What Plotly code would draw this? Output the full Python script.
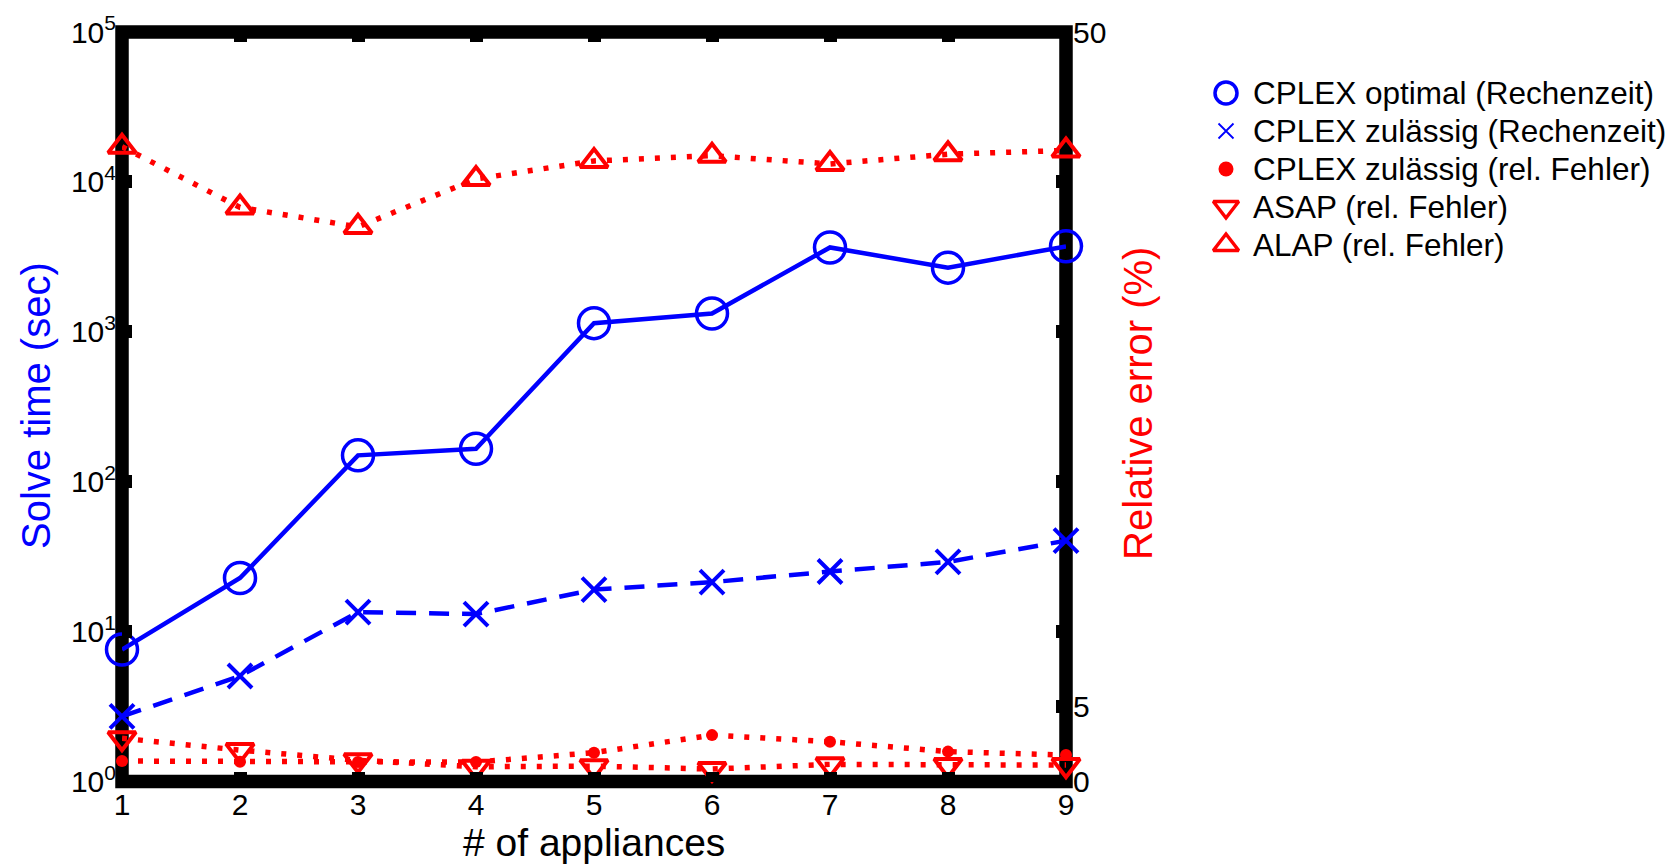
import plotly.graph_objects as go

# ---- data ----
appliances = [1, 2, 3, 4, 5, 6, 7, 8, 9]
opt_time = [7.6, 22.8, 150, 166, 1143, 1325, 3656, 2680, 3718]        # CPLEX optimal (Rechenzeit), sec
feas_time = [2.72, 5.06, 13.5, 13.1, 19.1, 21.4, 25.2, 29.2, 40.5]    # CPLEX zulässig (Rechenzeit), sec
feas_err = [1.37, 1.33, 1.3, 1.3, 1.93, 3.1, 2.66, 2.0, 1.77]          # CPLEX zulässig (rel. Fehler), %
asap_err = [2.89, 2.1, 1.42, 0.99, 1.03, 0.84, 1.15, 1.1, 1.1]         # ASAP (rel. Fehler), %
alap_err = [42.35, 38.3, 37.0, 40.2, 41.4, 41.75, 41.2, 41.85, 42.1]   # ALAP (rel. Fehler), %

names = ["CPLEX optimal (Rechenzeit)", "CPLEX zulässig (Rechenzeit)",
         "CPLEX zulässig (rel. Fehler)", "ASAP (rel. Fehler)", "ALAP (rel. Fehler)"]

left_tickvals = [1, 10, 100, 1000, 10000, 100000]
left_ticktext = ["10<sup>0</sup>", "10<sup>1</sup>", "10<sup>2</sup>",
                 "10<sup>3</sup>", "10<sup>4</sup>", "10<sup>5</sup>"]
right_tickvals = [0, 5, 50]

# ---- layout constants (pixels in the 1672x865 page) ----
W, H = 1672, 865
PL, PR, PT, PB = 122, 1066, 32, 781.6          # plot-area edges
LEG_X0 = 1140                                  # legend panel left edge
LEG_SYM_X, LEG_TXT_X = 1226, 1251
LEG_ROW0, LEG_DY = 93, 38

BLUE = "#0000FF"
RED = "#FF0000"
FONT = "Liberation Sans, Arial, sans-serif"

fig = go.Figure()

# ---- data traces ----
fig.add_trace(go.Scatter(
    x=appliances, y=alap_err, xaxis="x", yaxis="y2", mode="lines+markers", showlegend=False,
    name=names[4], line=dict(color=RED, width=5.5, dash="5px,11px"),
    marker=dict(symbol="triangle-up-open", size=24, color=RED, line=dict(width=4, color=RED)),
    cliponaxis=False))
fig.add_trace(go.Scatter(
    x=appliances, y=feas_err, xaxis="x", yaxis="y2", mode="lines+markers", showlegend=False,
    name=names[2], line=dict(color=RED, width=5.5, dash="5px,11px"),
    marker=dict(symbol="circle", size=12, color=RED),
    cliponaxis=False))
fig.add_trace(go.Scatter(
    x=appliances, y=asap_err, xaxis="x", yaxis="y2", mode="lines+markers", showlegend=False,
    name=names[3], line=dict(color=RED, width=5.5, dash="5px,11px"),
    marker=dict(symbol="triangle-down-open", size=24, color=RED, line=dict(width=4, color=RED)),
    cliponaxis=False))
fig.add_trace(go.Scatter(
    x=appliances, y=feas_time, xaxis="x", yaxis="y", mode="lines+markers", showlegend=False,
    name=names[1], line=dict(color=BLUE, width=4.5, dash="20px,13px"),
    marker=dict(symbol="x-thin", size=24, color=BLUE, line=dict(width=4, color=BLUE)),
    cliponaxis=False))
fig.add_trace(go.Scatter(
    x=appliances, y=opt_time, xaxis="x", yaxis="y", mode="lines+markers", showlegend=False,
    name=names[0], line=dict(color=BLUE, width=4.5),
    marker=dict(symbol="circle-open", size=31, color=BLUE, line=dict(width=3.5, color=BLUE)),
    cliponaxis=False))

# ---- legend panel (markers + real text), drawn on its own invisible axes ----
leg_rows = [LEG_ROW0 + i * LEG_DY for i in range(len(names))]
fig.add_trace(go.Scatter(
    x=[LEG_SYM_X] * len(names), y=leg_rows, xaxis="x2", yaxis="y3", mode="markers",
    showlegend=False, hoverinfo="skip", cliponaxis=False,
    marker=dict(symbol=["circle-open", "x-thin", "circle", "triangle-down-open", "triangle-up-open"],
                size=[22, 15, 15, 22, 22], opacity=1,
                color=[BLUE, BLUE, RED, RED, RED],
                line=dict(width=[3.5, 1.8, 0, 3.5, 3.5], color=[BLUE, BLUE, RED, RED, RED]))))

annotations = []
for nm, ry in zip(names, leg_rows):
    annotations.append(dict(text=nm, xref="paper", yref="paper", x=LEG_TXT_X / W, y=1 - ry / H,
                            xanchor="left", yanchor="middle", showarrow=False,
                            font=dict(family=FONT, size=31.5, color="black")))

# ---- axis titles ----
annotations += [
    dict(text="# of appliances", xref="paper", yref="paper", x=((PL + PR) / 2) / W, y=1 - 842 / H,
         xanchor="center", yanchor="middle", showarrow=False,
         font=dict(family=FONT, size=39, color="black")),
    dict(text="Solve time (sec)", xref="paper", yref="paper", x=36 / W, y=1 - 406 / H,
         xanchor="center", yanchor="middle", textangle=-90, showarrow=False,
         font=dict(family=FONT, size=40, color=BLUE)),
    dict(text="Relative error (%)", xref="paper", yref="paper", x=1138 / W, y=1 - 404 / H,
         xanchor="center", yanchor="middle", textangle=-90, showarrow=False,
         font=dict(family=FONT, size=40, color=RED)),
]

# ---- thick frame, centred on the plot-area edges, under the data ----
fig.add_shape(type="rect", xref="x domain", yref="y domain", x0=0, x1=1, y0=0, y1=1,
              line=dict(color="black", width=13.5), layer="below")

tickfont = dict(family=FONT, size=30, color="black")
xdom = [PL / W, PR / W]
ydom = [1 - PB / H, 1 - PT / H]

fig.update_layout(
    width=W, height=H,
    margin=dict(l=0, r=0, t=0, b=0, pad=0, autoexpand=False),
    paper_bgcolor="white", plot_bgcolor="rgba(0,0,0,0)",
    font=dict(family=FONT, color="black"),
    showlegend=False,
    xaxis=dict(domain=xdom, anchor="y", range=[1, 9], tickvals=appliances, ticks="inside",
               ticklen=10, tickwidth=13, tickcolor="black", mirror="ticks", showline=False,
               showgrid=False, zeroline=False, tickfont=tickfont, ticklabelstandoff=2,
               automargin=False),
    yaxis=dict(domain=ydom, anchor="x", type="log", range=[0, 5], tickvals=left_tickvals,
               ticktext=left_ticktext, ticks="inside", ticklen=10, tickwidth=13,
               tickcolor="black", mirror="ticks", showline=False, showgrid=False,
               zeroline=False, tickfont=tickfont, ticklabelstandoff=5, automargin=False),
    yaxis2=dict(overlaying="y", anchor="x", side="right", range=[0, 50], tickvals=right_tickvals,
                ticks="inside", ticklen=10, tickwidth=13, tickcolor="black",
                showline=False, showgrid=False, zeroline=False, tickfont=tickfont,
                ticklabelstandoff=6, automargin=False),
    xaxis2=dict(domain=[LEG_X0 / W, 1], anchor="y3", range=[LEG_X0, W], visible=False,
                fixedrange=True),
    yaxis3=dict(domain=[0, 1], anchor="x2", range=[H, 0], visible=False, fixedrange=True),
    annotations=annotations,
)

fig.write_html("out.html")
